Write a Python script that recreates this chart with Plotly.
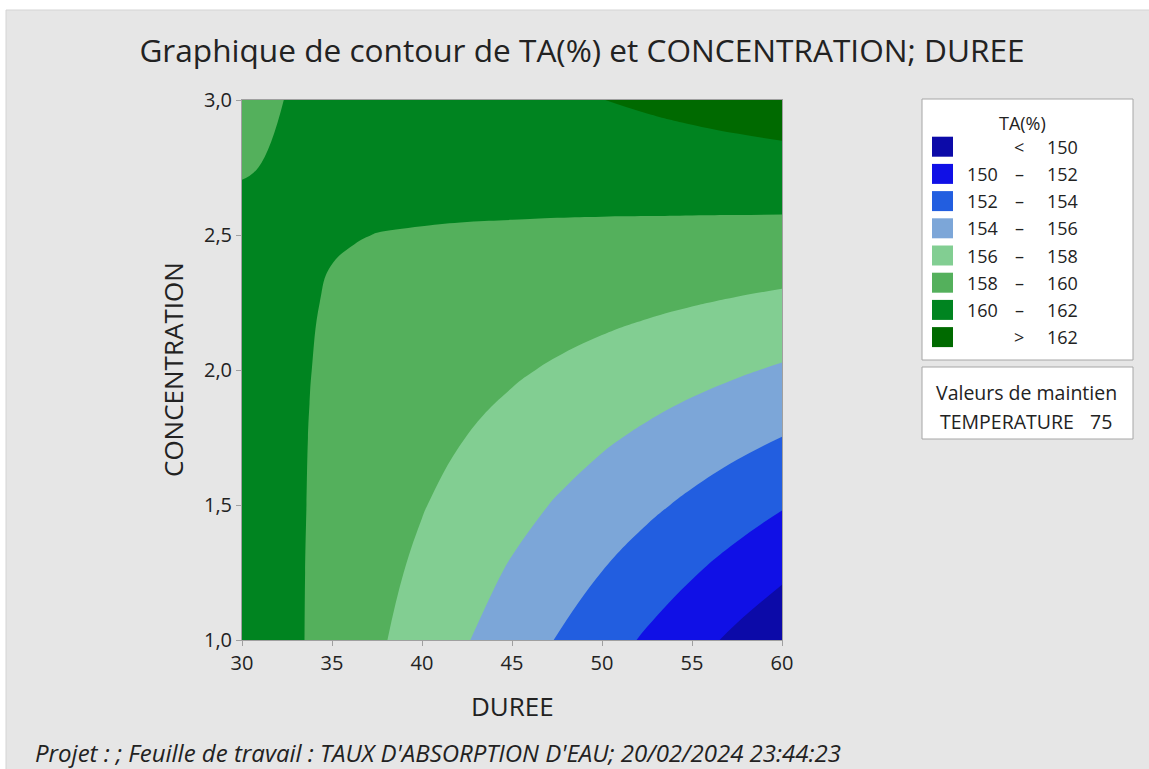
import plotly.graph_objects as go

# Grille lue sur le graphique Minitab (DUREE en x, CONCENTRATION en y),
# resserrée autour du col de la surface (vers DUREE 33-37, CONCENTRATION 2,4-2,6)
duree = [30, 32.5, 33.75, 35, 36.25, 37.5, 40, 42.5, 45, 47.5, 50, 52.5, 55, 57.5, 60]
concentration = [1.0, 1.25, 1.5, 1.75, 2.0, 2.25, 2.375, 2.5, 2.625, 2.75, 3.0]

# TA(%) estimé sur la grille, une ligne par niveau de concentration
ta_c1000 = [161.50, 160.42, 159.88, 159.33, 158.79, 158.25, 157.17, 156.08, 155.00, 153.92, 152.83, 151.75, 150.67, 149.58, 148.50]
ta_c1250 = [161.28, 160.37, 159.91, 159.45, 159.00, 158.54, 157.63, 156.72, 155.80, 154.89, 153.98, 153.06, 152.15, 151.24, 150.33]
ta_c1500 = [161.06, 160.32, 159.95, 159.58, 159.20, 158.83, 158.09, 157.35, 156.61, 155.86, 155.12, 154.38, 153.64, 152.89, 152.15]
ta_c1750 = [160.84, 160.27, 159.98, 159.70, 159.41, 159.12, 158.55, 157.98, 157.41, 156.84, 156.26, 155.69, 155.12, 154.55, 153.98]
ta_c2000 = [160.62, 160.22, 160.02, 159.82, 159.62, 159.42, 159.01, 158.61, 158.21, 157.81, 157.41, 157.01, 156.60, 156.20, 155.80]
ta_c2250 = [160.40, 160.17, 160.05, 159.94, 159.82, 159.71, 159.48, 159.24, 159.01, 158.78, 158.55, 158.32, 158.09, 157.86, 157.63]
ta_c2375 = [160.29, 160.14, 160.07, 159.99, 159.92, 159.85, 159.71, 159.56, 159.41, 159.27, 159.12, 158.98, 158.83, 158.68, 158.54]
ta_c2500 = [160.18, 160.12, 160.09, 160.06, 160.03, 159.99, 159.94, 159.88, 159.82, 159.75, 159.69, 159.63, 159.57, 159.51, 159.45]
ta_c2625 = [160.07, 160.09, 160.11, 160.12, 160.13, 160.14, 160.17, 160.19, 160.22, 160.24, 160.26, 160.29, 160.31, 160.34, 160.36]
ta_c2750 = [159.96, 160.07, 160.12, 160.18, 160.23, 160.29, 160.40, 160.51, 160.62, 160.73, 160.84, 160.95, 161.06, 161.17, 161.28]
ta_c3000 = [159.74, 160.02, 160.16, 160.30, 160.44, 160.58, 160.86, 161.14, 161.42, 161.70, 161.98, 162.26, 162.54, 162.82, 163.10]

# Classes de contour (légende) et couleurs
bornes = [150, 152, 154, 156, 158, 160, 162]
couleurs = ["#0c0aa8", "#1010e6", "#225ee0", "#7ca6d8", "#82ce92", "#54b05c", "#008420", "#006a00"]

x_ticks = [30, 35, 40, 45, 50, 55, 60]
y_ticks = [1.0, 1.5, 2.0, 2.5, 3.0]

W, H = 1149, 769
L, T, PW, PH = 242, 100, 540, 540
FONT = "Open Sans"
TXT = "#222222"
LEG = 18


def px(x):
    # pixel horizontal -> coordonnée paper
    return (x - L) / PW


def py(y):
    # pixel vertical -> coordonnée paper
    return (T + PH - y) / PH


z = [ta_c1000, ta_c1250, ta_c1500, ta_c1750, ta_c2000, ta_c2250,
     ta_c2375, ta_c2500, ta_c2625, ta_c2750, ta_c3000]
n = len(couleurs) - 1

fig = go.Figure(go.Contour(
    x=duree,
    y=concentration,
    z=z,
    autocontour=False,
    contours=dict(start=bornes[0], end=bornes[-1], size=2, coloring="fill", showlines=False),
    colorscale=[[i / n, c] for i, c in enumerate(couleurs)],
    line=dict(width=0, smoothing=1.3),
    showscale=False,
    hovertemplate="DUREE %{x}<br>CONCENTRATION %{y}<br>TA(%) %{z:.1f}<extra></extra>",
))

shapes = [
    # bandes blanches autour du fond gris
    dict(type="rect", xref="paper", yref="paper", x0=px(0), x1=px(W), y0=py(10), y1=py(0),
         fillcolor="white", line=dict(width=0), layer="below"),
    dict(type="rect", xref="paper", yref="paper", x0=px(0), x1=px(6), y0=py(H), y1=py(0),
         fillcolor="white", line=dict(width=0), layer="below"),
    dict(type="line", xref="paper", yref="paper", x0=px(6), x1=px(W), y0=py(10), y1=py(10),
         line=dict(color="#d4d4d4", width=1), layer="below"),
    dict(type="line", xref="paper", yref="paper", x0=px(6), x1=px(6), y0=py(10), y1=py(H),
         line=dict(color="#d4d4d4", width=1), layer="below"),
    # cadres de la légende
    dict(type="rect", xref="paper", yref="paper", x0=px(922), x1=px(1133), y0=py(360), y1=py(99),
         fillcolor="white", line=dict(color="#a6a6a6", width=1)),
    dict(type="rect", xref="paper", yref="paper", x0=px(922), x1=px(1133), y0=py(439), y1=py(367),
         fillcolor="white", line=dict(color="#a6a6a6", width=1)),
]

annotations = [
    dict(text="CONCENTRATION", x=px(173), y=py(370), textangle=-90, font=dict(size=26)),
    dict(text="DUREE", x=px(512), y=py(706), font=dict(size=26)),
    dict(text="<i>Projet : ; Feuille de travail : TAUX D'ABSORPTION D'EAU; 20/02/2024 23:44:23</i>",
         x=px(33), y=py(752), xanchor="left", font=dict(size=24)),
    dict(text="TA(%)", x=px(1022), y=py(123), font=dict(size=LEG)),
    dict(text="Valeurs de maintien", x=px(1026), y=py(393), font=dict(size=19.5)),
    dict(text="TEMPERATURE", x=px(938), y=py(421), xanchor="left", font=dict(size=19.5)),
    dict(text="75", x=px(1114), y=py(421), xanchor="right", font=dict(size=19.5)),
]

# lignes de la légende : < 150, 150 – 152, ..., > 162
for i, c in enumerate(couleurs):
    yc = 146.7 + 27.2 * i
    shapes.append(dict(type="rect", xref="paper", yref="paper",
                       x0=px(932), x1=px(953), y0=py(yc + 10), y1=py(yc - 10),
                       fillcolor=c, line=dict(width=0)))
    if i == 0:
        gauche, signe, droite = "", "<", str(bornes[0])
    elif i == n:
        gauche, signe, droite = "", ">", str(bornes[-1])
    else:
        gauche, signe, droite = str(bornes[i - 1]), "–", str(bornes[i])
    if gauche:
        annotations.append(dict(text=gauche, x=px(1000), y=py(yc), xanchor="right",
                                font=dict(size=LEG)))
    annotations.append(dict(text=signe, x=px(1019), y=py(yc), font=dict(size=LEG)))
    annotations.append(dict(text=droite, x=px(1045), y=py(yc), xanchor="left",
                            font=dict(size=LEG)))

for a in annotations:
    a.setdefault("xanchor", "center")
    a.update(xref="paper", yref="paper", yanchor="middle", showarrow=False)
    a["font"].update(family=FONT, color=TXT)

axe = dict(showgrid=False, zeroline=False, showline=True, linecolor="#a0a0a0", linewidth=1,
           mirror=True, ticks="outside", ticklen=5, tickcolor="#a0a0a0",
           tickfont=dict(size=20, color=TXT))

fig.update_layout(
    width=W, height=H,
    margin=dict(l=L, r=W - L - PW, t=T, b=H - T - PH),
    paper_bgcolor="#e6e6e6",
    plot_bgcolor="white",
    font=dict(family=FONT, color=TXT),
    separators=", ",
    title=dict(text="Graphique de contour de TA(%) et CONCENTRATION; DUREE",
               x=582 / W, xanchor="center", xref="container",
               y=1 - 51 / H, yanchor="middle", yref="container",
               font=dict(size=31.6, color=TXT)),
    xaxis=dict(axe, range=[30, 60], tickvals=x_ticks),
    yaxis=dict(axe, range=[1, 3], tickvals=y_ticks, tickformat=".1f"),
    shapes=shapes,
    annotations=annotations,
    showlegend=False,
)

# la page est photographiée sans marge autour du graphique
fig.write_html("out.html", config={"displayModeBar": False},
               post_script="document.body.style.margin = '0';")
